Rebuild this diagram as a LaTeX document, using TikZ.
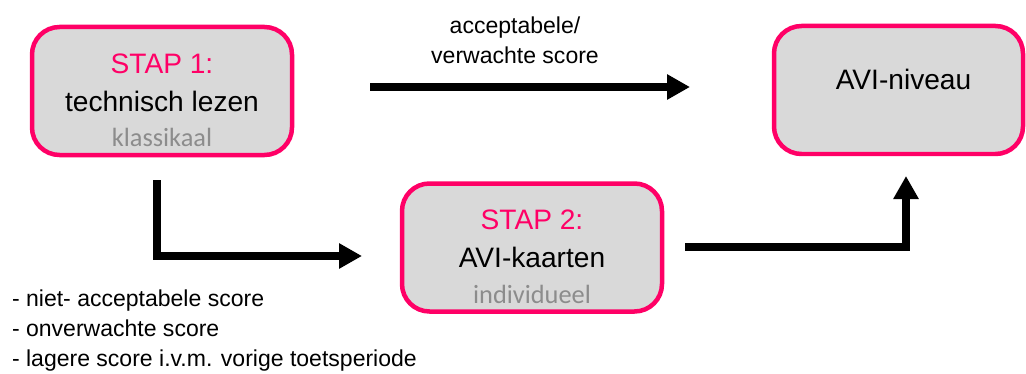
\documentclass[tikz,border=0pt]{standalone}
\usepackage{fontspec}
\setmainfont{Liberation Sans}
\newfontfamily\calibri{Carlito}
\usetikzlibrary{arrows.meta}

\definecolor{avipink}{HTML}{FF0066}
\definecolor{avigray}{HTML}{D9D9D9}
\definecolor{subgray}{HTML}{8C8C8C}

\tikzstyle{box} = [rectangle, draw=avipink, fill=avigray, line width=0.09cm,
		rounded corners=0.55cm, minimum width=5.2cm, minimum height=2.56cm]
\tikzstyle{flow} = [draw, line width=0.16cm, -{Triangle[length=0.46cm, width=0.48cm]}]
\tikzstyle{stap} = [color=avipink, font=\fontsize{16}{19}\selectfont, anchor=base]
\tikzstyle{title} = [font=\fontsize{16}{19}\selectfont, anchor=base]
\tikzstyle{sub} = [color=subgray, font=\calibri\fontsize{15}{18}\selectfont, anchor=base]
\tikzstyle{note} = [font=\fontsize{13.1}{17}\selectfont, anchor=base west, align=left, inner sep=0pt]

\begin{document}
\begin{tikzpicture}
		\useasboundingbox (0,0) rectangle (20.52,-7.48);
		%Step 1
		\node [box] (step1) at (3.24,-1.82) {};
		\node [stap] (step1_nr) at (3.24,-1.466) {STAP 1:};
		\node [title] (step1_name) at (3.24,-2.234) {technisch lezen};
		\node [sub] (step1_sub) at (3.24,-2.92) {klassikaal};
		
		%Step 2
		\node [box] (step2) at (10.64,-4.95) {};
		\node [stap] (step2_nr) at (10.64,-4.586) {STAP 2:};
		\node [title] (step2_name) at (10.64,-5.346) {AVI-kaarten};
		\node [sub] (step2_sub) at (10.64,-6.066) {individueel};
		
		%Result
		\node [box, minimum width=4.98cm] (niveau) at (17.97,-1.80) {};
		\node [title] (niveau_name) at (18.07,-1.80) {AVI-niveau};
		
		%labels (base = last line)
		\node [font=\fontsize{13.1}{16.7}\selectfont, anchor=base, align=center] (acc_lab) at (10.30,-1.266) {acceptabele/\\verwachte score};
		\node [note] (fail_lab) at (0.234,-7.334) {- niet- acceptabele score\\- onverwachte score\\- lagere score i.v.m. vorige toetsperiode};
		
		%arrows
		\coordinate (acc_from) at (7.40,-1.74);
		\coordinate (acc_to) at (13.80,-1.74);
		\coordinate (fail_from) at (3.14,-3.60);
		\coordinate (fail_to) at (7.24,-5.12);
		\coordinate (kaart_from) at (13.70,-4.94);
		\coordinate (kaart_to) at (18.12,-3.52);
		\path [flow] (acc_from) -- (acc_to);
		\path [flow] (fail_from) |- (fail_to);
		\path [flow] (kaart_from) -| (kaart_to);
		
\end{tikzpicture}
\end{document}
